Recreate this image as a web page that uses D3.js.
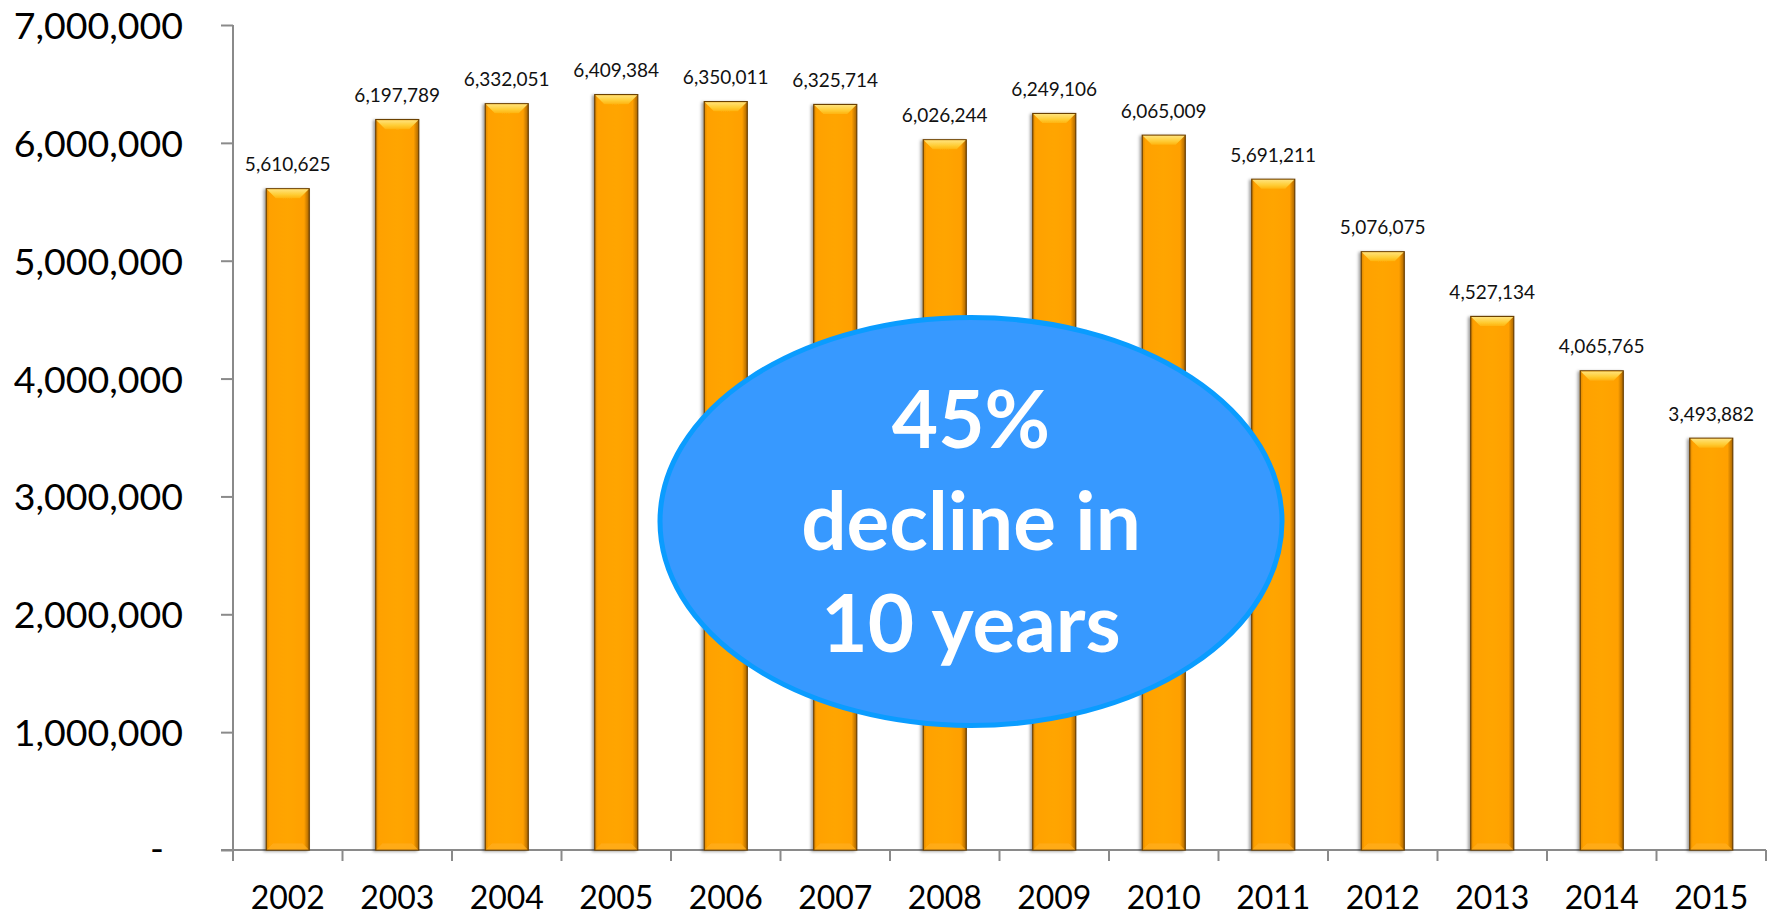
<!DOCTYPE html>
<html>
<head>
<meta charset="utf-8">
<script src="https://cdn.jsdelivr.net/npm/d3@7"></script>
<style>
  html, body { margin: 0; padding: 0; background: #fff; }
  svg { display: block; font-family: Lato, "Open Sans", sans-serif; }
</style>
</head>
<body>
<svg id="chart" width="1771" height="915"></svg>
<script>
// Annual totals, 2002–2015
const years = ["2002","2003","2004","2005","2006","2007","2008","2009","2010","2011","2012","2013","2014","2015"];
const totals = [5610625, 6197789, 6332051, 6409384, 6350011, 6325714, 6026244, 6249106, 6065009, 5691211, 5076075, 4527134, 4065765, 3493882];
const yTicks = [0, 1000000, 2000000, 3000000, 4000000, 5000000, 6000000, 7000000];
const calloutLines = ["45%", "decline in", "10 years"];

const data = years.map((y, i) => ({ year: y, value: totals[i] }));

const svg = d3.select("#chart");
const axisColor = "#8a8a8a";

const x = d3.scaleBand()
  .domain(years)
  .range([233, 1766])
  .paddingInner(0.607)
  .paddingOuter(0.3035);

const y = d3.scaleLinear()
  .domain([0, 7000000])
  .range([850, 25]);

// ---- defs: bar gradients and shadow
const defs = svg.append("defs");

const body = defs.append("linearGradient").attr("id", "barBody")
  .attr("x1", "0").attr("x2", "1").attr("y1", "0").attr("y2", "0");
[["0%", "#d98400"], ["7%", "#ffa100"], ["50%", "#ffa504"], ["88%", "#ffa000"], ["100%", "#a86400"]]
  .forEach(([o, c]) => body.append("stop").attr("offset", o).attr("stop-color", c));

const topBevel = defs.append("linearGradient").attr("id", "bevelTop")
  .attr("x1", "0").attr("x2", "0").attr("y1", "0").attr("y2", "1");
[["0%", "#ffe27a"], ["60%", "#ffcc33"], ["100%", "#ffb310"]]
  .forEach(([o, c]) => topBevel.append("stop").attr("offset", o).attr("stop-color", c));

const shadow = defs.append("filter").attr("id", "barShadow")
  .attr("x", "-30%").attr("y", "-5%").attr("width", "160%").attr("height", "110%");
shadow.append("feDropShadow")
  .attr("dx", -2).attr("dy", 1).attr("stdDeviation", 1.8)
  .attr("flood-color", "#000").attr("flood-opacity", 0.38);

// ---- axes
const yAxis = d3.axisLeft(y)
  .tickValues(yTicks)
  .tickSize(12)
  .tickPadding(38)
  .tickFormat(d => d === 0 ? "-" : d3.format(",")(d));

const gy = svg.append("g")
  .attr("transform", `translate(${x.range()[0]},0)`)
  .call(yAxis);
gy.select(".domain").remove();
gy.selectAll(".tick line").attr("stroke", axisColor).attr("stroke-width", 2);
gy.selectAll(".tick text")
  .attr("font-family", "Lato, sans-serif")
  .attr("font-size", 37.5)
  .attr("fill", "#000")
  .attr("dy", "0.36em");
gy.selectAll(".tick text").filter(d => d === 0).attr("x", -69).attr("dy", "0.3em");

// vertical axis line
svg.append("line")
  .attr("x1", x.range()[0]).attr("x2", x.range()[0])
  .attr("y1", y(7000000)).attr("y2", y(0) + 11)
  .attr("stroke", axisColor).attr("stroke-width", 2);

// horizontal axis line
svg.append("line")
  .attr("x1", x.range()[0] - 12).attr("x2", x.range()[1])
  .attr("y1", y(0)).attr("y2", y(0))
  .attr("stroke", axisColor).attr("stroke-width", 2);

// category boundary ticks
const bounds = d3.range(years.length + 1).map(i => x.range()[0] + i * x.step());
svg.append("g").selectAll("line").data(bounds).join("line")
  .attr("x1", d => d).attr("x2", d => d)
  .attr("y1", y(0)).attr("y2", y(0) + 11)
  .attr("stroke", axisColor).attr("stroke-width", 2);

const xAxis = d3.axisBottom(x).tickSize(0);
const gx = svg.append("g")
  .attr("transform", `translate(0,${y(0)})`)
  .call(xAxis);
gx.select(".domain").remove();
gx.selectAll(".tick text")
  .attr("font-family", "Lato, sans-serif")
  .attr("font-size", 32)
  .attr("fill", "#000")
  .attr("y", 59)
  .attr("dy", 0);

// ---- bars
const bevel = 9;
const bars = svg.append("g").selectAll("g.bar").data(data).join("g")
  .attr("class", "bar")
  .attr("filter", "url(#barShadow)");

bars.append("rect")
  .attr("x", d => x(d.year))
  .attr("y", d => y(d.value))
  .attr("width", x.bandwidth())
  .attr("height", d => y(0) - y(d.value))
  .attr("fill", "url(#barBody)")
  .attr("stroke", "#6b4000")
  .attr("stroke-width", 1.2);

// top bevel face
bars.append("path")
  .attr("d", d => {
    const x0 = x(d.year) + 0.6, x1 = x(d.year) + x.bandwidth() - 0.6, t = y(d.value) + 0.6;
    return `M${x0},${t}L${x1},${t}L${x1 - bevel},${t + bevel}L${x0 + bevel},${t + bevel}Z`;
  })
  .attr("fill", "url(#bevelTop)");

// bottom bevel face
bars.append("path")
  .attr("d", d => {
    const x0 = x(d.year) + 0.6, x1 = x(d.year) + x.bandwidth() - 0.6, b = y(0) - 0.6;
    return `M${x0},${b}L${x1},${b}L${x1 - 6},${b - 6}L${x0 + 6},${b - 6}Z`;
  })
  .attr("fill", "#ffad1c")
  .attr("opacity", 0.8);

// value labels
svg.append("g").selectAll("text").data(data).join("text")
  .attr("x", d => x(d.year) + x.bandwidth() / 2)
  .attr("y", d => y(d.value) - 17.5)
  .attr("text-anchor", "middle")
  .attr("font-family", "Lato, sans-serif")
  .attr("font-size", 19)
  .attr("fill", "#111")
  .text(d => d3.format(",")(d.value));

// ---- callout ellipse
const callout = svg.append("g").attr("transform", "translate(971,521.5)");
callout.append("ellipse")
  .attr("rx", 311).attr("ry", 204)
  .attr("fill", "#3799ff")
  .attr("stroke", "#0a9cff")
  .attr("stroke-width", 5);

callout.selectAll("text").data(calloutLines).join("text")
  .attr("x", 0)
  .attr("y", (d, i) => -73.5 + i * 102)
  .attr("text-anchor", "middle")
  .attr("font-family", "Lato, sans-serif")
  .attr("font-weight", 700)
  .attr("font-size", 80)
  .attr("fill", "#fff")
  .text(d => d);
</script>
</body>
</html>
